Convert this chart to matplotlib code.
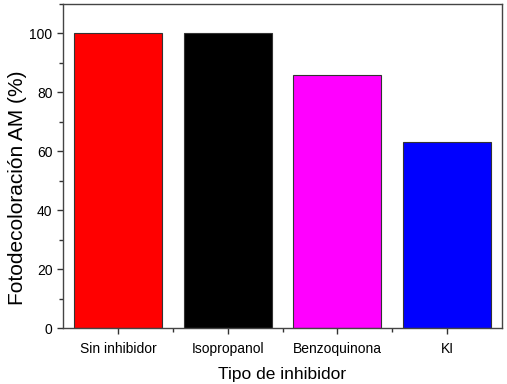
import matplotlib.pyplot as plt
from matplotlib.ticker import MultipleLocator

plt.rcParams['font.family'] = ['Liberation Sans', 'DejaVu Sans']

# datos
inhibidores = ['Sin inhibidor', 'Isopropanol', 'Benzoquinona', 'KI']
fotodecoloracion = [100, 100, 86, 63]
colores = ['#ff0000', '#000000', '#ff00ff', '#0000ff']

fig = plt.figure(figsize=(5.07, 3.84), dpi=100)
ax = fig.add_axes([63/507, 1 - 328/384, (502-63)/507, (328-4)/384])

pos = range(1, len(inhibidores) + 1)
ax.bar(pos, fotodecoloracion, width=0.8, color=colores, edgecolor='#333333', linewidth=0.8)

ax.set_xlim(0.5, 4.5)
ax.set_ylim(0, 110)
ax.set_xticks(list(pos))
ax.set_xticklabels(inhibidores)
ax.set_xticks([1.5, 2.5, 3.5], minor=True)
ax.yaxis.set_major_locator(MultipleLocator(20))
ax.yaxis.set_minor_locator(MultipleLocator(10))
ax.tick_params(which='both', direction='out', length=4, width=1, labelsize=10, color='#333333')
ax.tick_params(axis='x', which='major', pad=6)
ax.tick_params(which='minor', length=3)

for s in ax.spines.values():
    s.set_color('#444444')
    s.set_linewidth(1)

ax.set_xlabel('Tipo de inhibidor', fontsize=12.5, labelpad=8)
ax.set_ylabel('Fotodecoloración AM (%)', fontsize=15)
ax.yaxis.set_label_coords(-0.083, 0.432)

plt.savefig('out.png', dpi=100)
